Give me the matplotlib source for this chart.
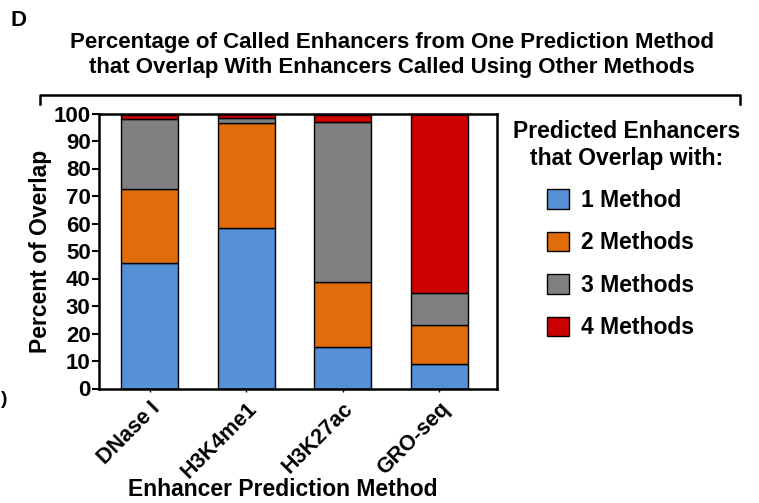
import matplotlib
matplotlib.use("Agg")
import matplotlib.pyplot as plt
import numpy as np
from matplotlib.patches import Patch
from matplotlib.lines import Line2D

plt.rcParams['font.family'] = ['Liberation Sans', 'DejaVu Sans']
plt.rcParams['font.weight'] = 'bold'

methods = ["DNase I", "H3K4me1", "H3K27ac", "GRO-seq"]
series_names = ["1 Method", "2 Methods", "3 Methods", "4 Methods"]
one_method = [45.6, 58.2, 15.0, 9.0]
two_methods = [26.9, 38.5, 23.8, 14.0]
three_methods = [25.4, 1.7, 58.0, 11.9]
four_methods = [1.7, 1.6, 2.8, 65.1]
colors = ["#5690D6", "#E06C0C", "#808080", "#CC0000"]

W, H = 759, 503
fig = plt.figure(figsize=(W / 100, H / 100), dpi=100)

def px(x, y):
    return x / W, 1 - y / H

ax = fig.add_axes([99 / W, 1 - 388.5 / H, 398 / W, 275 / H])
x = np.arange(len(methods))
bottom = np.zeros(len(methods))
for vals, col in zip([one_method, two_methods, three_methods, four_methods], colors):
    ax.bar(x, vals, 0.59, bottom=bottom, color=col, edgecolor="black", linewidth=1.0, zorder=2)
    bottom += np.array(vals)

ax.set_xlim(-0.525, 3.6)
ax.set_ylim(0, 100)
ax.set_yticks(np.arange(0, 101, 10))
ax.set_xticks(x)
ax.set_xticklabels(methods, rotation=45, ha="right", rotation_mode="anchor", fontsize=15.5, fontweight="bold")
ax.tick_params(axis="y", labelsize=16, width=1.5, length=5, direction="out", pad=1)
ax.tick_params(axis="x", length=2, width=1, pad=5)
for s in ax.spines.values():
    s.set_linewidth(1.8)

ax.set_ylabel("Percent of Overlap", fontsize=16.5, fontweight="bold", labelpad=1)
fig.text(*px(283, 489), "Enhancer Prediction Method", fontsize=16.5, fontweight="bold",
         ha="center", va="center")

# panel letter and title
fig.text(*px(18, 20), "D", fontsize=16, fontweight="bold", va="center", ha="center")
fig.text(*px(392, 55), "Percentage of Called Enhancers from One Prediction Method\nthat Overlap With Enhancers Called Using Other Methods",
         fontsize=16, fontweight="bold", ha="center", va="center", linespacing=1.25)

# bracket
bx = [40 / W, 40 / W, 740 / W, 740 / W]
by = [1 - 104 / H, 1 - 95 / H, 1 - 95 / H, 1 - 104 / H]
fig.add_artist(Line2D(bx, by, color="black", linewidth=1.8, transform=fig.transFigure))

# legend
handles = [Patch(facecolor=c, edgecolor="black", linewidth=1.0) for c in colors]
leg = fig.legend(handles, series_names, loc="upper left", bbox_to_anchor=px(547, 189),
                 frameon=False, fontsize=16.5, handlelength=0.95, handleheight=0.95,
                 labelspacing=0.85, handletextpad=0.55, borderaxespad=0, borderpad=0)
for t in leg.get_texts():
    t.set_fontweight("bold")
fig.text(*px(627, 145), "Predicted Enhancers\nthat Overlap with:", fontsize=16.5, fontweight="bold",
         ha="center", va="center", linespacing=1.2)

fig.text(1 / W, 1 - 400 / H, ")", fontsize=14, fontweight="bold", va="center", ha="left")

fig.savefig("out.png", dpi=100)
